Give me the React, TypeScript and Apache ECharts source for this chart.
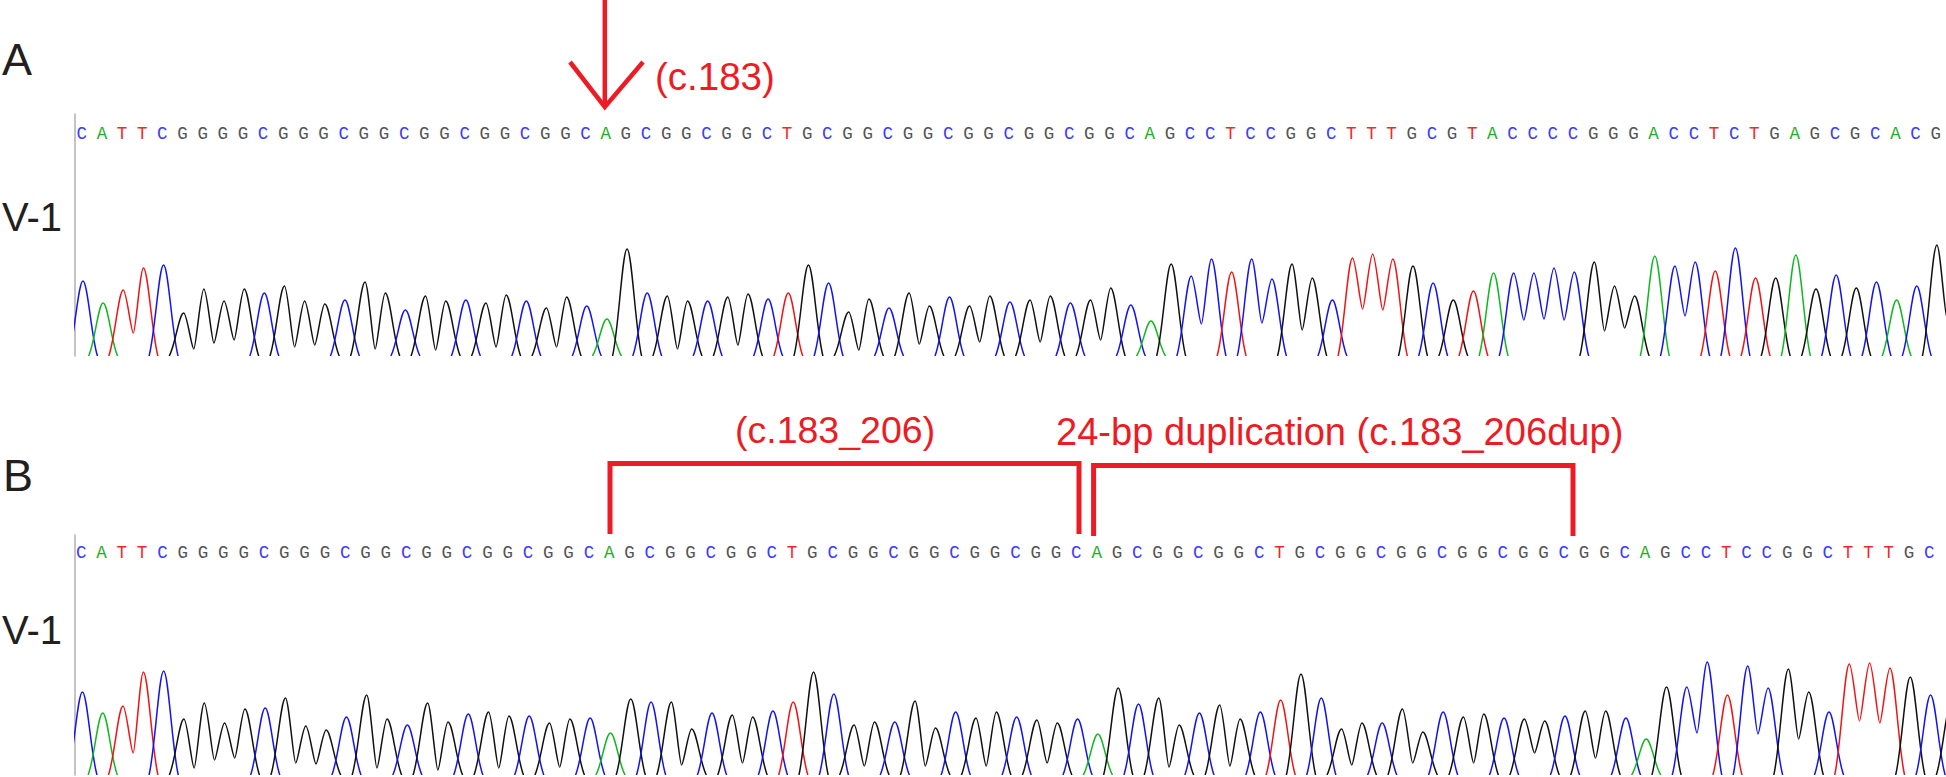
import React, { useEffect, useRef } from "react";
import * as echarts from "echarts";

// Called bases
const basesA = "CATTCGGGGCGGGCGGCGGCGGCGGCAGCGGCGGCTGCGGCGGCGGCGGCGGCAGCCTCCGGCTTTGCGTACCCCGGGACCTCTGAGCGCACG";
const basesB = "CATTCGGGGCGGGCGGCGGCGGCGGCAGCGGCGGCTGCGGCGGCGGCGGCAGCGGCGGCTGCGGCGGCGGCGGCGGCAGCCTCCGGCTTTGC";

// Peak height of every base, panel A (last value: uncalled peak running off the edge)
const peaksA = [
  75, 53, 66, 88, 91, 43, 67, 55, 67, 63, 70, 55, 52, 56, 74, 63, 46, 60, 55, 56, 53, 61, 55, 48, 59, 50, 37, 107, 63,
  60, 55, 55, 59, 62, 57, 63, 91, 73, 44, 57, 48, 63, 50, 59, 50, 60, 54, 56, 60, 53, 56, 68, 51, 35, 92, 80, 97, 84,
  97, 77, 92, 78, 56, 98, 102, 97, 90, 73, 56, 65, 83, 83, 83, 88, 84, 94, 70, 60, 100, 90, 94, 85, 108, 78, 78, 101,
  67, 81, 68, 74, 56, 70, 111, 70,
];
// Peak height of every base, panel B
const peaksB = [
  83, 62, 69, 103, 104, 56, 72, 52, 66, 67, 77, 49, 45, 58, 80, 56, 50, 72, 53, 61, 63, 59, 59, 52, 56, 57, 42, 76, 73,
  73, 46, 62, 60, 58, 64, 73, 103, 81, 50, 53, 53, 74, 47, 63, 57, 63, 58, 55, 52, 56, 41, 87, 71, 77, 50, 62, 70, 56,
  63, 75, 101, 77, 46, 52, 52, 66, 43, 63, 58, 61, 57, 56, 54, 59, 64, 64, 57, 36, 88, 88, 113, 80, 109, 87, 106, 83,
  63, 111, 112, 107, 98, 80, 70,
];
// Dips between two neighbouring peaks of one dye: [left base, height]
const valleysA = [
  [2, 23], [5, 7], [6, 13], [7, 16], [10, 9], [11, 11], [14, 7], [17, 6], [20, 9], [23, 9], [29, 7], [32, 11], [38, 6],
  [41, 12], [44, 14], [47, 14], [50, 16], [55, 32], [58, 33], [60, 26], [63, 47], [64, 46], [71, 36], [72, 37], [73, 36],
  [75, 25], [76, 28], [79, 40], [92, 38],
];
const valleysB = [
  [2, 22], [5, 7], [6, 15], [7, 17], [10, 12], [11, 11], [14, 7], [17, 5], [20, 7], [23, 8], [29, 10], [32, 12], [38, 9],
  [41, 9], [44, 9], [47, 12], [53, 8], [56, 9], [62, 10], [65, 12], [68, 12], [71, 22], [74, 17], [79, 42], [82, 41],
  [84, 36], [87, 54], [88, 52],
];
const extraA = "G";
const extraB = "G";

const laneLabels = ["A", "V-1", "B", "V-1"];
const noteSingle = "(c.183)";
const noteFirst = "(c.183_206)";
const noteSecond = "24-bp duplication (c.183_206dup)";

const traceColors: Record<string, string> = { G: "#111111", C: "#1414f0", T: "#f01414", A: "#10b820" };
const letterColors: Record<string, string> = { G: "#555555", C: "#3c3cff", T: "#f02828", A: "#18b020" };
const RED = "#ed1c24";
const LETTER_LEVEL = 222;
const LETTER_SHIFT = -0.06;
const FOOT = 0.72;

function peakData(bases: string, peaks: number[], valleys: number[][]) {
  const dip = new Map(valleys.map(([i, h]) => [i, h]));
  return peaks.map((h, i) => [i, h, dip.get(i - 1) ?? -1, dip.get(i) ?? -1, "GCTA".indexOf(bases[i])]);
}

function renderPeak(_: any, api: any) {
  const x = api.value(0);
  const h = api.value(1);
  const vl = api.value(2);
  const vr = api.value(3);
  const color = traceColors["GCTA"[api.value(4)]];
  const p = (a: number, b: number) => {
    const c = api.coord([a, b]);
    return `${c[0].toFixed(2)} ${c[1].toFixed(2)}`;
  };
  const xl = vl >= 0 ? x - 0.5 : x - FOOT;
  const xr = vr >= 0 ? x + 0.5 : x + FOOT;
  const yl = Math.max(vl, 0);
  const yr = Math.max(vr, 0);
  const dl = x - xl;
  const dr = xr - x;
  const d =
    `M${p(xl, yl)}` +
    `C${p(xl + dl * (vl >= 0 ? 0.22 : 0.42), yl + (vl >= 0 ? 0 : h * 0.25))} ${p(x - dl * 0.32, h)} ${p(x, h)}` +
    `C${p(x + dr * 0.32, h)} ${p(xr - dr * (vr >= 0 ? 0.22 : 0.42), yr + (vr >= 0 ? 0 : h * 0.25))} ${p(xr, yr)}`;
  return {
    type: "path",
    shape: { pathData: d },
    style: { fill: "none", stroke: color, lineWidth: 1.5 },
    silent: true,
  };
}

function renderLetter(_: any, api: any) {
  const c = api.coord([api.value(0) + LETTER_SHIFT, LETTER_LEVEL]);
  const letter = "GCTA"[api.value(1)];
  return {
    type: "text",
    style: {
      text: letter,
      x: c[0],
      y: c[1],
      fill: letterColors[letter],
      fontFamily: "Liberation Mono",
      fontSize: 17.5,
      align: "center",
      verticalAlign: "middle",
    },
    silent: true,
  };
}

const redLine = (points: number[][], lineWidth: number) => ({
  type: "polyline",
  shape: { points },
  style: { fill: "none", stroke: RED, lineWidth },
  silent: true,
});
const baselineText = (text: string, x: number, baseline: number, size: number, fill: string) => ({
  type: "text",
  x,
  y: baseline - size * 0.905,
  style: { text, fill, fontFamily: "Liberation Sans", fontSize: size, verticalAlign: "top", lineHeight: size * 1.149 },
  silent: true,
});

export default function App() {
  const ref = useRef<HTMLDivElement>(null);
  useEffect(() => {
    const chart = echarts.init(ref.current!, undefined, { renderer: "svg" });
    const axisY = (gridIndex: number) => ({
      type: "value",
      gridIndex,
      min: 0,
      max: gridIndex === 0 ? 242 : 240,
      splitLine: { show: false },
      axisTick: { show: false },
      axisLabel: { show: false },
      axisLine: { show: true, onZero: false, lineStyle: { color: "#b0b0b0", width: 1.5 } },
    });
    const axisX = (gridIndex: number, min: number, max: number) => ({
      type: "value",
      gridIndex,
      min,
      max,
      show: false,
      splitLine: { show: false },
    });
    const letters = (bases: string) => bases.split("").map((b, i) => [i, "GCTA".indexOf(b)]);
    chart.setOption({
      animation: false,
      backgroundColor: "#ffffff",
      grid: [
        { left: 74.5, right: 0, top: 114, height: 242 },
        { left: 74.5, right: 0, top: 535, height: 240 },
      ],
      xAxis: [axisX(0, -0.42, 92.45), axisX(1, -0.39, 91.76)],
      yAxis: [axisY(0), axisY(1)],
      series: [
        { type: "custom", xAxisIndex: 0, yAxisIndex: 0, renderItem: renderPeak, clip: true, data: peakData(basesA + extraA, peaksA, valleysA) },
        { type: "custom", xAxisIndex: 1, yAxisIndex: 1, renderItem: renderPeak, clip: true, data: peakData(basesB + extraB, peaksB, valleysB) },
        { type: "custom", xAxisIndex: 0, yAxisIndex: 0, renderItem: renderLetter, clip: false, data: letters(basesA) },
        { type: "custom", xAxisIndex: 1, yAxisIndex: 1, renderItem: renderLetter, clip: false, data: letters(basesB) },
      ],
      graphic: [
        baselineText(laneLabels[0], 2, 74, 45, "#231f20"),
        baselineText(laneLabels[1], 2, 230, 40, "#231f20"),
        baselineText(laneLabels[2], 3, 490, 45, "#231f20"),
        baselineText(laneLabels[3], 2, 643, 40, "#231f20"),
        redLine([[604.8, 0], [604.8, 107]], 4.5),
        redLine([[570, 62], [604.8, 107], [643, 62]], 4.5),
        redLine([[610, 534], [610, 463.5], [1079, 463.5], [1079, 534]], 5),
        redLine([[1093.6, 536], [1093.6, 465.5], [1573, 465.5], [1573, 536]], 5),
        baselineText(noteSingle, 655, 89, 38.5, RED),
        baselineText(noteFirst, 735, 442, 37.5, RED),
        baselineText(noteSecond, 1056, 445, 38.1, RED),
      ],
    });
    return () => chart.dispose();
  }, []);
  return <div ref={ref} style={{ position: "fixed", left: 0, top: 0, width: 1946, height: 777 }} />;
}
